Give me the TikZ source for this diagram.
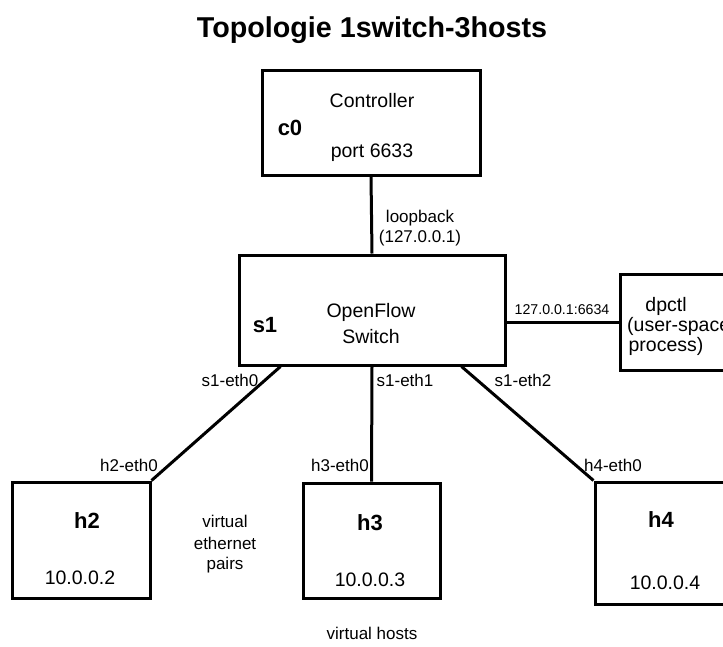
\documentclass[tikz,border=0pt]{standalone}
\usepackage{fontspec}
\setmainfont{Liberation Sans}
\begin{document}
\begin{tikzpicture}[x=1pt,y=-1pt,
  box/.style={draw,line width=3pt,rectangle,inner sep=0pt},
  link/.style={line width=3pt},
  main/.style={font=\fontsize{19.5}{22}\selectfont,inner sep=0pt,anchor=center},
  bold/.style={font=\fontsize{22}{24}\selectfont\bfseries,inner sep=0pt,anchor=center},
  lbl/.style={font=\fontsize{17}{20}\selectfont,inner sep=0pt,anchor=center},
  small/.style={font=\fontsize{14.2}{17}\selectfont,inner sep=0pt,anchor=center}]
\useasboundingbox (0,0) rectangle (723,646);
\clip (0,0) rectangle (723,646);
% title
\node[font=\fontsize{28.7}{32}\selectfont\bfseries,inner sep=0pt] (title) at (372,30) {Topologie 1switch-3hosts};
% boxes
\node[box,minimum width=218pt,minimum height=105pt] (c0) at (371,122.5) {};
\node[box,minimum width=266pt,minimum height=110pt] (s1) at (372,310) {};
\node[box,minimum width=115pt,minimum height=96pt] (dp) at (677.5,322) {};
\node[box,minimum width=138pt,minimum height=116pt] (h2) at (81,540) {};
\node[box,minimum width=137pt,minimum height=115pt] (h3) at (371.5,540.5) {};
\node[box,minimum width=140pt,minimum height=122pt] (h4) at (665,543) {};
% connectors
\draw[link] (c0.south) -- (s1.north);
\draw[link] (s1.east |- dp.west) -- (dp.west);
\draw[link] ([xshift=43pt]s1.south west) -- (h2.north east);
\draw[link] (s1.south) -- (h3.north);
\draw[link] ([xshift=-45pt]s1.south east) -- (h4.north west);
% texts
\node[main] (t1) at (372,101) {Controller};
\node[bold] (t2) at (290,128) {c0};
\node[main] (t3) at (372,153) {port 6633};
\node[lbl] (t4) at (420,218) {loopback};
\node[lbl] (t5) at (420,238) {(127.0.0.1)};
\node[bold] (t6) at (265,325) {s1};
\node[main] (t7) at (371,312) {OpenFlow};
\node[main] (t8) at (371,337) {Switch};
\node[small] (t9) at (562,310) {127.0.0.1:6634};
\node[main] (t10) at (666,306) {dpctl};
\node[main,anchor=west] (t11) at (627,326) {(user-space};
\node[main] (t12) at (666,346) {process)};
\node[lbl] (t13) at (230,380) {s1-eth0};
\node[lbl] (t14) at (405,380) {s1-eth1};
\node[lbl] (t15) at (523,380) {s1-eth2};
\node[lbl] (t16) at (129,465) {h2-eth0};
\node[lbl] (t17) at (340,465) {h3-eth0};
\node[lbl] (t18) at (613,465) {h4-eth0};
\node[bold] (t19) at (87,521) {h2};
\node[main] (t20) at (80,578) {10.0.0.2};
\node[bold] (t21) at (370,523) {h3};
\node[main] (t22) at (370,580) {10.0.0.3};
\node[bold] (t23) at (661,520) {h4};
\node[main] (t24) at (665,583) {10.0.0.4};
\node[lbl] (t25) at (225,521) {virtual};
\node[lbl] (t26) at (225,543) {ethernet};
\node[lbl] (t27) at (225,565) {pairs};
\node[lbl] (t28) at (372,633) {virtual hosts};
\end{tikzpicture}
\end{document}
